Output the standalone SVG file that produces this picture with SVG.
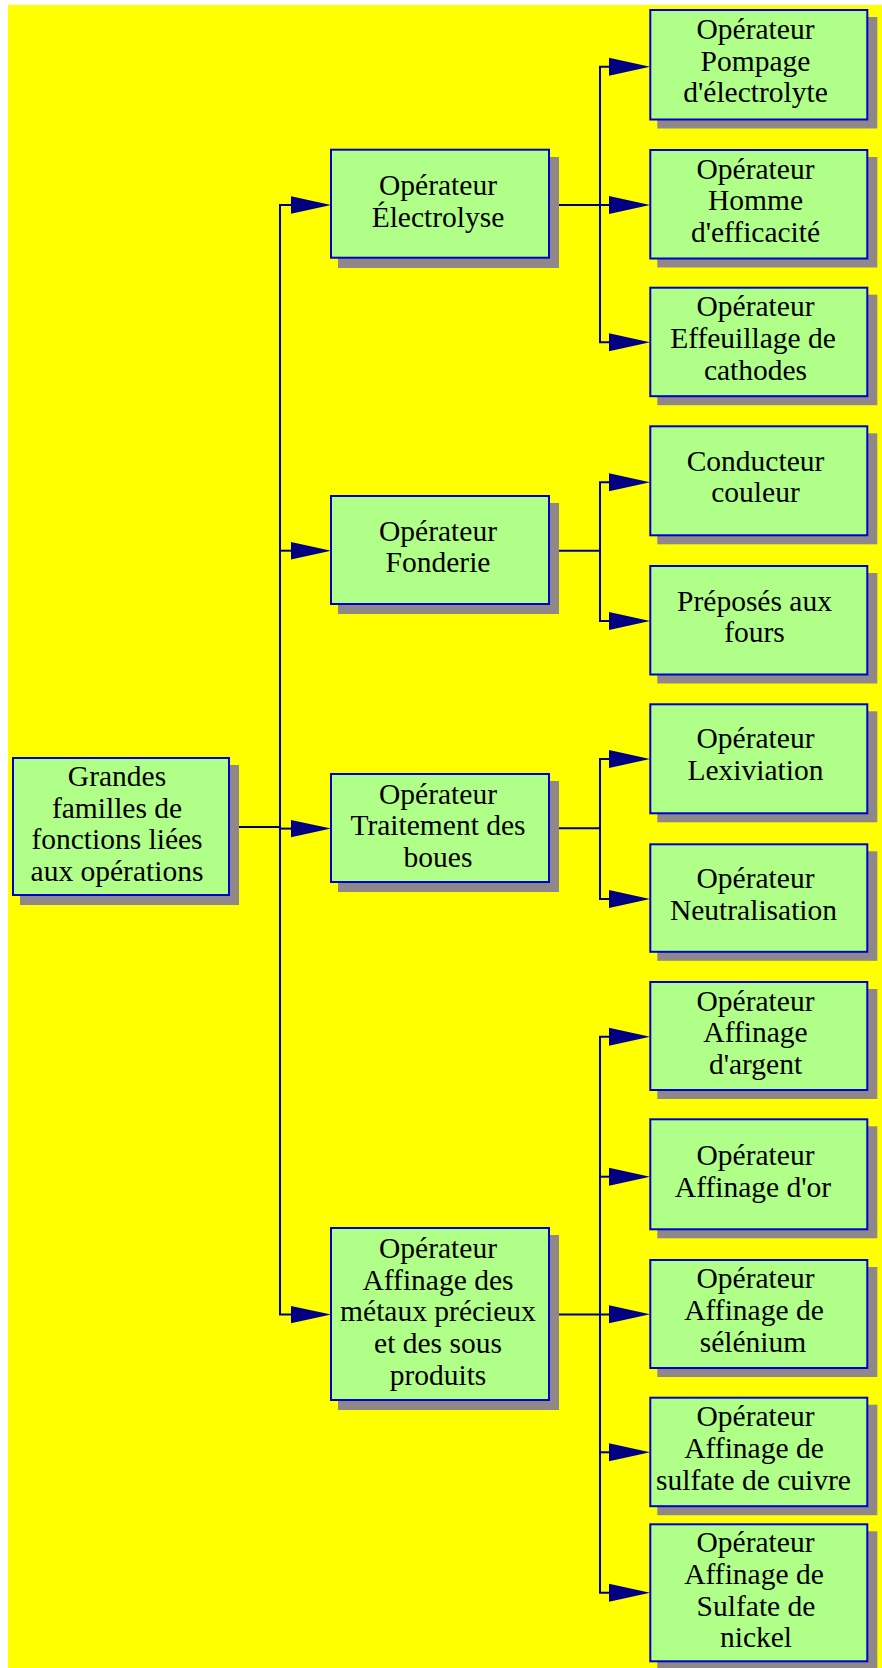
<svg xmlns="http://www.w3.org/2000/svg" width="882" height="1668" viewBox="0 0 882 1668">
<style>
.bg{fill:#ffff00}
.sh{fill:#908888}
.bx{fill:#b0ff88;stroke:#0000d0;stroke-width:2}
.t{font-family:"Liberation Serif","Times New Roman",serif;font-size:29.5px;fill:#000;text-anchor:middle}
.ln{fill:none;stroke:#000090;stroke-width:2}
.ah{fill:#000080}
</style>
<rect x="0" y="0" width="882" height="1668" fill="#ffffff"/>
<rect class="bg" x="8" y="5" width="874" height="1663"/>

<g id="connectors">
<path class="ln" d="M230 827 H280"/>
<path class="ln" d="M292 205 H280 V1314.6 H292"/>
<path class="ln" d="M280 550.7 H292"/>
<path class="ln" d="M280 828.6 H292"/>
<polygon class="ah" points="291,196.3 331,205 291,213.7"/>
<polygon class="ah" points="291,542 331,550.7 291,559.4"/>
<polygon class="ah" points="291,819.9 331,828.6 291,837.3"/>
<polygon class="ah" points="291,1305.9 331,1314.6 291,1323.3"/>

<path class="ln" d="M549 205 H610"/>
<path class="ln" d="M610 66.7 H600 V342.3 H610"/>
<path class="ln" d="M549 550.7 H600"/>
<path class="ln" d="M610 482.3 H600 V621 H610"/>
<path class="ln" d="M549 828.3 H600"/>
<path class="ln" d="M610 759 H600 V899 H610"/>
<path class="ln" d="M549 1314.5 H610"/>
<path class="ln" d="M610 1036.7 H600 V1592.7 H610"/>
<path class="ln" d="M600 1176.7 H610"/>
<path class="ln" d="M600 1452.3 H610"/>
<polygon class="ah" points="609,57.7 650,66.7 609,75.7"/>
<polygon class="ah" points="609,196 650,205 609,214"/>
<polygon class="ah" points="609,333.3 650,342.3 609,351.3"/>
<polygon class="ah" points="609,473.3 650,482.3 609,491.3"/>
<polygon class="ah" points="609,612 650,621 609,630"/>
<polygon class="ah" points="609,750 650,759 609,768"/>
<polygon class="ah" points="609,890 650,899 609,908"/>
<polygon class="ah" points="609,1027.7 650,1036.7 609,1045.7"/>
<polygon class="ah" points="609,1167.7 650,1176.7 609,1185.7"/>
<polygon class="ah" points="609,1305.3 650,1314.3 609,1323.3"/>
<polygon class="ah" points="609,1443.3 650,1452.3 609,1461.3"/>
<polygon class="ah" points="609,1583.7 650,1592.7 609,1601.7"/>
</g>

<g id="root">
<rect class="sh" x="20" y="765" width="219" height="140"/>
<rect class="bx" x="13" y="758" width="216" height="137"/>
<text class="t" x="117"><tspan x="117" y="786">Grandes</tspan><tspan x="117" y="817.5">familles de</tspan><tspan x="117" y="849">fonctions liées</tspan><tspan x="117" y="881">aux opérations</tspan></text>
</g>

<g id="electrolyse">
<rect class="sh" x="338" y="157" width="221" height="111"/>
<rect class="bx" x="331" y="149.7" width="218" height="108"/>
<text class="t"><tspan x="438" y="195">Opérateur</tspan><tspan x="438" y="227">Électrolyse</tspan></text>
</g>

<g id="fonderie">
<rect class="sh" x="338" y="503" width="221" height="111"/>
<rect class="bx" x="331" y="496" width="218" height="108"/>
<text class="t"><tspan x="438" y="541">Opérateur</tspan><tspan x="438" y="572">Fonderie</tspan></text>
</g>

<g id="traitement">
<rect class="sh" x="338" y="781" width="221" height="111"/>
<rect class="bx" x="331" y="774" width="218" height="108"/>
<text class="t"><tspan x="438" y="803.5">Opérateur</tspan><tspan x="438" y="835">Traitement des</tspan><tspan x="438" y="866.5">boues</tspan></text>
</g>

<g id="affinage">
<rect class="sh" x="338" y="1235" width="221" height="175"/>
<rect class="bx" x="331" y="1228" width="218" height="172"/>
<text class="t"><tspan x="438" y="1258">Opérateur</tspan><tspan x="438" y="1289.5">Affinage des</tspan><tspan x="438" y="1321">métaux précieux</tspan><tspan x="438" y="1353">et des sous</tspan><tspan x="438" y="1384.5">produits</tspan></text>
</g>

<g id="pompage">
<rect class="sh" x="657.3" y="17" width="220" height="111.5"/>
<rect class="bx" x="650.3" y="10" width="217" height="109.5"/>
<text class="t"><tspan x="755.5" y="38.5">Opérateur</tspan><tspan x="755.5" y="70.5">Pompage</tspan><tspan x="755.5" y="102">d'électrolyte</tspan></text>
</g>

<g id="homme">
<rect class="sh" x="657.3" y="157" width="220" height="110.5"/>
<rect class="bx" x="650.3" y="150" width="217" height="108.5"/>
<text class="t"><tspan x="755.5" y="178.5">Opérateur</tspan><tspan x="755.5" y="210">Homme</tspan><tspan x="755.5" y="241.5">d'efficacité</tspan></text>
</g>

<g id="effeuillage">
<rect class="sh" x="657.3" y="294.7" width="220" height="110.5"/>
<rect class="bx" x="650.3" y="287.7" width="217" height="108.5"/>
<text class="t"><tspan x="755.5" y="316">Opérateur</tspan><tspan x="753" y="348">Effeuillage de</tspan><tspan x="755.5" y="380">cathodes</tspan></text>
</g>

<g id="conducteur">
<rect class="sh" x="657.3" y="433.3" width="220" height="111"/>
<rect class="bx" x="650.3" y="426.3" width="217" height="109"/>
<text class="t"><tspan x="755.5" y="471">Conducteur</tspan><tspan x="755.5" y="502">couleur</tspan></text>
</g>

<g id="preposes">
<rect class="sh" x="657.3" y="573" width="220" height="110.5"/>
<rect class="bx" x="650.3" y="566" width="217" height="108.5"/>
<text class="t"><tspan x="754.5" y="611">Préposés aux</tspan><tspan x="754.5" y="642">fours</tspan></text>
</g>

<g id="lexiviation">
<rect class="sh" x="657.3" y="711.3" width="220" height="111"/>
<rect class="bx" x="650.3" y="704.3" width="217" height="109"/>
<text class="t"><tspan x="755.5" y="748">Opérateur</tspan><tspan x="755.5" y="780">Lexiviation</tspan></text>
</g>

<g id="neutralisation">
<rect class="sh" x="657.3" y="851.3" width="220" height="109.5"/>
<rect class="bx" x="650.3" y="844.3" width="217" height="107.5"/>
<text class="t"><tspan x="755.5" y="888">Opérateur</tspan><tspan x="753.5" y="920">Neutralisation</tspan></text>
</g>

<g id="argent">
<rect class="sh" x="657.3" y="989" width="220" height="110"/>
<rect class="bx" x="650.3" y="982" width="217" height="108"/>
<text class="t"><tspan x="755.5" y="1011">Opérateur</tspan><tspan x="755.5" y="1042">Affinage</tspan><tspan x="755.5" y="1073.5">d'argent</tspan></text>
</g>

<g id="or">
<rect class="sh" x="657.3" y="1126.3" width="220" height="112"/>
<rect class="bx" x="650.3" y="1119.3" width="217" height="110"/>
<text class="t"><tspan x="755.5" y="1165">Opérateur</tspan><tspan x="753" y="1197">Affinage d'or</tspan></text>
</g>

<g id="selenium">
<rect class="sh" x="657.3" y="1267" width="220" height="110"/>
<rect class="bx" x="650.3" y="1260" width="217" height="108"/>
<text class="t"><tspan x="755.5" y="1288">Opérateur</tspan><tspan x="754" y="1320">Affinage de</tspan><tspan x="753" y="1352">sélénium</tspan></text>
</g>

<g id="cuivre">
<rect class="sh" x="657.3" y="1404.7" width="220" height="110.5"/>
<rect class="bx" x="650.3" y="1397.7" width="217" height="108.5"/>
<text class="t"><tspan x="755.5" y="1426">Opérateur</tspan><tspan x="754" y="1458">Affinage de</tspan><tspan x="753.5" y="1490">sulfate de cuivre</tspan></text>
</g>

<g id="nickel">
<rect class="sh" x="657.3" y="1531.3" width="220" height="139"/>
<rect class="bx" x="650.3" y="1524.3" width="217" height="137"/>
<text class="t"><tspan x="755.5" y="1552">Opérateur</tspan><tspan x="754" y="1584">Affinage de</tspan><tspan x="756" y="1615.5">Sulfate de</tspan><tspan x="756" y="1647">nickel</tspan></text>
</g>
</svg>
